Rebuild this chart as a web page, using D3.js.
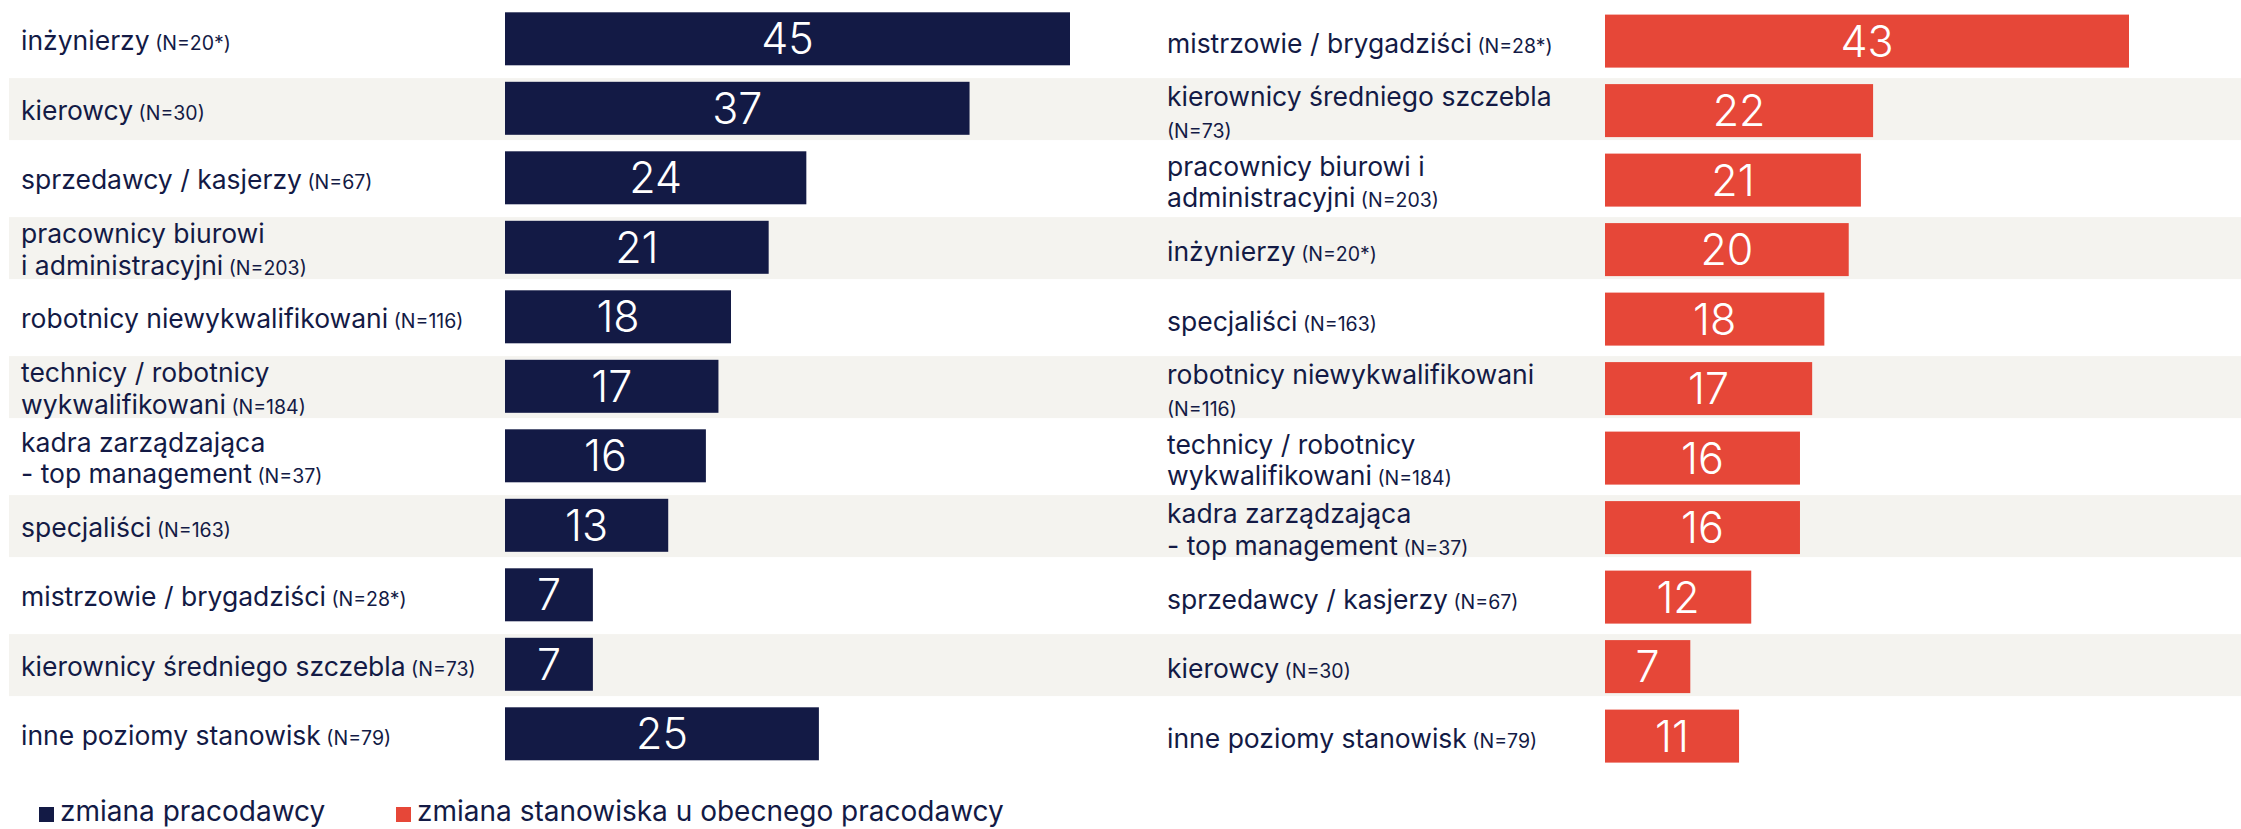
<!DOCTYPE html>
<html>
<head>
<meta charset="utf-8">
<script src="https://cdn.jsdelivr.net/npm/d3@7/dist/d3.min.js"></script>
<style>
  html, body { margin: 0; padding: 0; background: #fff; }
  svg { display: block; }
  text { font-family: Inter, "Noto Sans", sans-serif; }
</style>
</head>
<body>
<svg id="chart" width="2241" height="829"></svg>
<script>
// ---- data ----
const leftCategories = [
  "inżynierzy", "kierowcy", "sprzedawcy / kasjerzy", "pracownicy biurowi|i administracyjni",
  "robotnicy niewykwalifikowani", "technicy / robotnicy|wykwalifikowani",
  "kadra zarządzająca|- top management", "specjaliści", "mistrzowie / brygadziści",
  "kierownicy średniego szczebla", "inne poziomy stanowisk"
];
const leftN = ["(N=20*)", "(N=30)", "(N=67)", "(N=203)", "(N=116)", "(N=184)", "(N=37)", "(N=163)", "(N=28*)", "(N=73)", "(N=79)"];
const leftValues = [45, 37, 24, 21, 18, 17, 16, 13, 7, 7, 25];

const rightCategories = [
  "mistrzowie / brygadziści", "kierownicy średniego szczebla|", "pracownicy biurowi i|administracyjni",
  "inżynierzy", "specjaliści", "robotnicy niewykwalifikowani|", "technicy / robotnicy|wykwalifikowani",
  "kadra zarządzająca|- top management", "sprzedawcy / kasjerzy", "kierowcy", "inne poziomy stanowisk"
];
const rightN = ["(N=28*)", "(N=73)", "(N=203)", "(N=20*)", "(N=163)", "(N=116)", "(N=184)", "(N=37)", "(N=67)", "(N=30)", "(N=79)"];
const rightValues = [43, 22, 21, 20, 18, 17, 16, 16, 12, 7, 11];

const seriesNames = ["zmiana pracodawcy", "zmiana stanowiska u obecnego pracodawcy"];

// ---- style ----
const navy = "#131a45";
const red = "#e64738";
const bandFill = "#f4f3ef";

const svg = d3.select("#chart");
const W = 2241;

const rows = d3.range(11);
const y = d3.scaleBand()
  .domain(rows)
  .range([8.6, 8.6 + 69.5 * (11 - 0.108)])
  .paddingInner(0.108)
  .paddingOuter(0);

// alternating background bands (full width)
svg.append("g").selectAll("rect")
  .data(rows.filter(i => i % 2 === 1))
  .join("rect")
  .attr("x", 9)
  .attr("y", i => y(i))
  .attr("width", W - 9)
  .attr("height", y.bandwidth())
  .attr("fill", bandFill);

function panel(cfg) {
  const x = d3.scaleLinear().domain([0, cfg.max]).range([cfg.x0, cfg.x1]);
  const g = svg.append("g");
  const data = cfg.values.map((v, i) => ({ v, i, label: cfg.labels[i], n: cfg.ns[i] }));

  g.selectAll("rect.bar")
    .data(data)
    .join("rect")
    .attr("class", "bar")
    .attr("x", x(0))
    .attr("y", d => y(d.i) + cfg.barOff)
    .attr("width", d => x(d.v) - x(0))
    .attr("height", 53)
    .attr("fill", cfg.color);

  g.selectAll("text.val")
    .data(data)
    .join("text")
    .attr("class", "val")
    .attr("x", d => (x(0) + x(d.v)) / 2)
    .attr("y", d => y(d.i) + cfg.barOff + 26.5)
    .attr("dy", "0.36em")
    .attr("text-anchor", "middle")
    .attr("fill", "#fff")
    .attr("font-size", 43)
    .attr("font-weight", 300)
    .text(d => d.v);

  const lab = g.selectAll("text.lab")
    .data(data)
    .join("text")
    .attr("class", "lab")
    .attr("fill", navy)
    .attr("font-size", 26.5);

  lab.each(function (d) {
    const lines = d.label.split("|");
    const t = d3.select(this);
    const cy = y(d.i) + cfg.barOff + 26.5 + 3;
    const lh = 31.5;
    const start = cy - (lines.length - 1) * lh / 2;
    lines.forEach((ln, k) => {
      const base = start + k * lh + 8.5;
      if (ln.length) {
        t.append("tspan").attr("x", cfg.labelX).attr("y", base).text(ln);
      }
      if (k === lines.length - 1) {
        const ts = t.append("tspan")
          .attr("font-size", 19.5)
          .text((ln.length ? " " : "") + d.n);
        if (!ln.length) ts.attr("x", cfg.labelX).attr("y", base);
      }
    });
  });
}

panel({ values: leftValues, labels: leftCategories, ns: leftN, max: 45, x0: 505, x1: 1070, color: navy, labelX: 21, barOff: 3.7 });
panel({ values: rightValues, labels: rightCategories, ns: rightN, max: 43, x0: 1605, x1: 2129, color: red, labelX: 1167, barOff: 6 });

// legend
const legend = svg.append("g");
const legendItems = [
  { name: seriesNames[0], color: navy, x: 39 },
  { name: seriesNames[1], color: red, x: 396 }
];
legend.selectAll("rect")
  .data(legendItems)
  .join("rect")
  .attr("x", d => d.x)
  .attr("y", 807)
  .attr("width", 15)
  .attr("height", 15)
  .attr("fill", d => d.color);
legend.selectAll("text")
  .data(legendItems)
  .join("text")
  .attr("x", d => d.x + 21)
  .attr("y", 821)
  .attr("fill", navy)
  .attr("font-size", 28)
  .text(d => d.name);
</script>
</body>
</html>
